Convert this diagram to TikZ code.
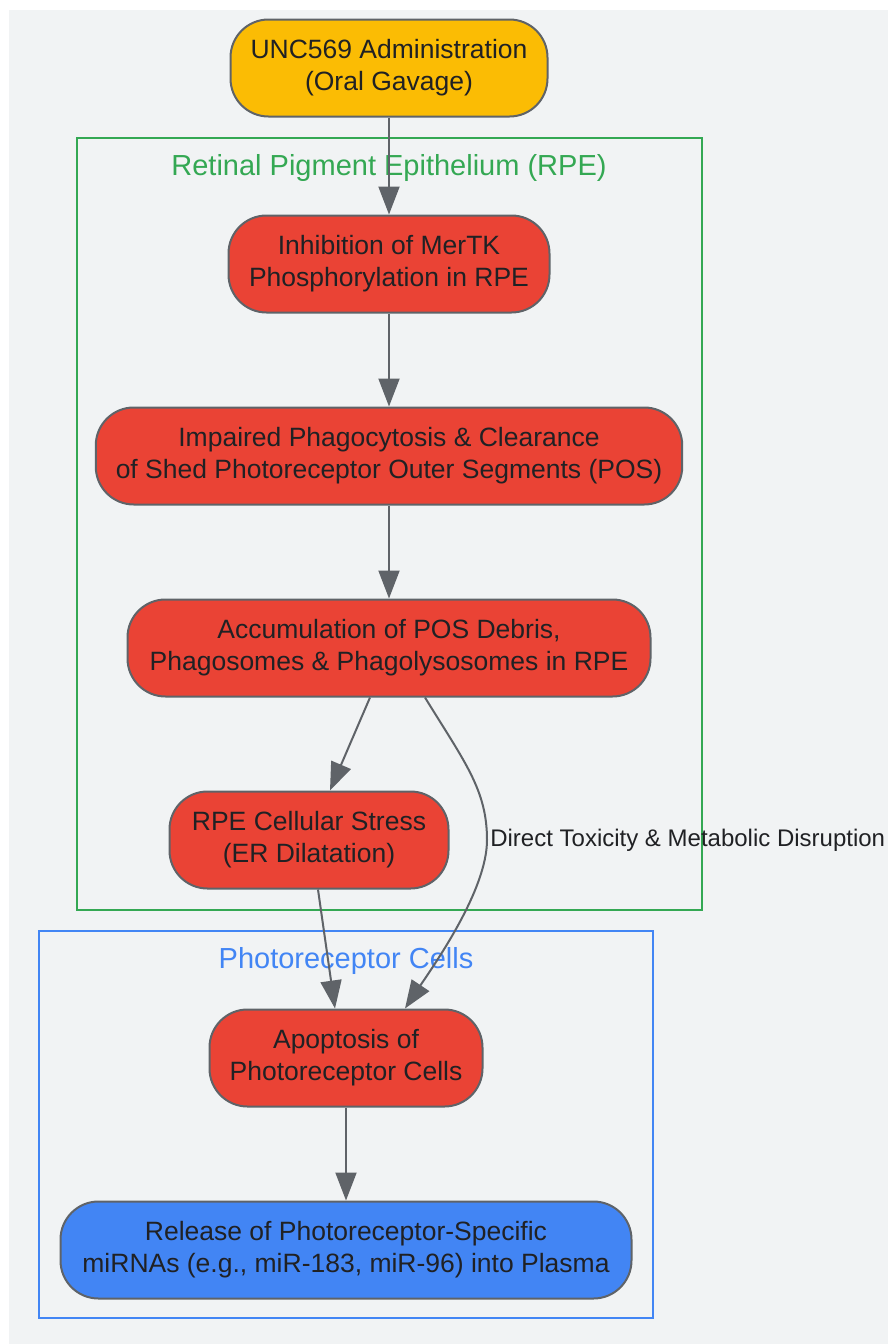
\documentclass[tikz,border=0pt]{standalone}
\usepackage{fontspec}
\setmainfont{Liberation Sans}
\usetikzlibrary{arrows.meta}
\definecolor{bgray}{HTML}{F1F3F4}
\definecolor{edgegray}{HTML}{5F6368}
\definecolor{txt}{HTML}{202124}
\definecolor{gyellow}{HTML}{FBBC04}
\definecolor{gred}{HTML}{EA4335}
\definecolor{gblue}{HTML}{4285F4}
\definecolor{ggreen}{HTML}{34A853}

\begin{document}
\begin{tikzpicture}[x=1pt,y=-1pt,
  box/.style={draw=edgegray,line width=2pt,rounded corners=38pt,align=center,
    minimum height=97pt,inner xsep=20pt,text=txt,
    font=\fontsize{26.5}{32}\selectfont,
    execute at begin node={\rule{0pt}{31pt}}},
  flow/.style={draw=edgegray,line width=2pt,-{Triangle[length=28pt,width=21pt]}},
  cluster/.style={line width=2pt},
  title/.style={font=\fontsize{29}{34}\selectfont}]
\useasboundingbox (0,0) rectangle (888,1344);
\fill[bgray] (9,10) rectangle (888,1344);

% clusters
\draw[cluster,ggreen] (77,138) rectangle (702,910);
\node[title,text=ggreen] (rpetitle) at (389,168) {Retinal Pigment Epithelium (RPE)};
\draw[cluster,gblue] (39,931) rectangle (653,1318);
\node[title,text=gblue] (prtitle) at (346,961) {Photoreceptor Cells};

% nodes
\node[box,fill=gyellow,minimum width=317pt] (unc) at (389,68) {UNC569 Administration\\(Oral Gavage)};
\node[box,fill=gred,minimum width=321pt] (inhib) at (389,264) {Inhibition of MerTK\\Phosphorylation in RPE};
\node[box,fill=gred,minimum width=583pt] (impair) at (389,456) {Impaired Phagocytosis \& Clearance\\of Shed Photoreceptor Outer Segments (POS)};
\node[box,fill=gred,minimum width=523pt] (accum) at (389,648) {Accumulation of POS Debris,\\Phagosomes \& Phagolysosomes in RPE};
\node[box,fill=gred,minimum width=279pt] (stress) at (309,840) {RPE Cellular Stress\\(ER Dilatation)};
\node[box,fill=gred,minimum width=273pt] (apop) at (346,1058) {Apoptosis of\\Photoreceptor Cells};
\node[box,fill=gblue,minimum width=571pt] (release) at (346,1250) {Release of Photoreceptor-Specific\\miRNAs (e.g., miR-183, miR-96) into Plasma};

% edges
\draw[flow] (unc) -- (inhib);
\draw[flow] (inhib) -- (impair);
\draw[flow] (impair) -- (accum);
\draw[flow] ([xshift=-19pt]accum.south) -- ([xshift=21pt]stress.north);
\coordinate (bend) at (487,840);
\draw[flow] ([xshift=36pt]accum.south) .. controls +(40,65) and +(0,-50) .. (bend)
  node[right=-1pt,text=txt,font=\fontsize{24}{28}\selectfont] (directlbl) {Direct Toxicity \& Metabolic Disruption}
  .. controls +(0,50) and +(30,-45) .. ([xshift=59pt]apop.north);
\draw[flow] ([xshift=9pt]stress.south) -- ([xshift=-11pt]apop.north);
\draw[flow] (apop) -- (release);
\end{tikzpicture}
\end{document}
